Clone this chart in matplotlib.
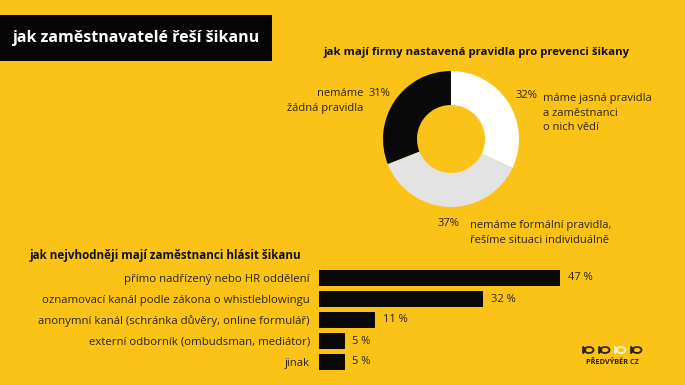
import matplotlib
matplotlib.use("Agg")
import matplotlib.pyplot as plt
from matplotlib.patches import Rectangle, Ellipse, Polygon

# ---- data ----
pie_labels = ["máme jasná pravidla\na zaměstnanci\no nich vědí",
              "nemáme formální pravidla,\nřešíme situaci individuálně",
              "nemáme\nžádná pravidla"]
pie_values = [32, 37, 31]
pie_colors = ["#ffffff", "#e3e3e3", "#0a0a0a"]

bar_labels = ["přímo nadřízený nebo HR oddělení",
              "oznamovací kanál podle zákona o whistleblowingu",
              "anonymní kanál (schránka důvěry, online formulář)",
              "externí odborník (ombudsman, mediátor)",
              "jinak"]
bar_values = [47, 32, 11, 5, 5]

title = "jak zaměstnavatelé řeší šikanu"
pie_title = "jak mají firmy nastavená pravidla pro prevenci šikany"
bar_title = "jak nejvhodněji mají zaměstnanci hlásit šikanu"

BG = "#fbc318"
TXT = "#2a2416"
W, H = 685, 385

plt.rcParams['font.family'] = ['Open Sans', 'DejaVu Sans']

fig = plt.figure(figsize=(W / 100, H / 100), dpi=100)
fig.patch.set_facecolor(BG)

def fx(x):
    return x / W

def fy(y):
    return 1 - y / H

# title box
fig.patches.append(Rectangle((0, fy(61)), fx(272), (61 - 15) / H,
                             transform=fig.transFigure, facecolor="#050505",
                             edgecolor="none", zorder=0))
fig.text(fx(12), fy(38), title, color="white", fontsize=11.5, fontweight="bold",
         va="center", ha="left")

# ---- donut ----
cx, cy, r = 451, 139, 68
axp = fig.add_axes([fx(cx - r), fy(cy + r), 2 * r / W, 2 * r / H])
axp.set_facecolor("none")
axp.pie(pie_values, colors=pie_colors, startangle=90, counterclock=False,
        radius=1, wedgeprops=dict(width=0.5, edgecolor="none"))
axp.set_xlim(-1, 1)
axp.set_ylim(-1, 1)
axp.set_aspect("equal")
axp.axis("off")

fig.text(fx(477), fy(52), pie_title, color="#111111", fontsize=8.2,
         fontweight="bold", ha="center", va="center")

lf = 8.0
# 32%
fig.text(fx(537), fy(95), f"{pie_values[0]}%", color=TXT, fontsize=lf, ha="right", va="center")
fig.text(fx(543), fy(113), pie_labels[0], color=TXT, fontsize=lf, ha="left", va="center",
         linespacing=1.5)
# 37%
fig.text(fx(459), fy(224), f"{pie_values[1]}%", color=TXT, fontsize=lf, ha="right", va="center")
fig.text(fx(470), fy(233), pie_labels[1], color=TXT, fontsize=lf, ha="left", va="center",
         linespacing=1.5)
# 31%
fig.text(fx(369), fy(93), f"{pie_values[2]}%", color=TXT, fontsize=lf, ha="left", va="center")
fig.text(fx(363), fy(101.5), pie_labels[2], color=TXT, fontsize=lf, ha="right", va="center",
         linespacing=1.5, multialignment="right")

# ---- bars ----
fig.text(fx(30), fy(255), bar_title, color="#111111", fontsize=8.4,
         fontweight="bold", ha="left", va="center")

top, step = 267.5, 21
n = len(bar_values)
axb = fig.add_axes([fx(319), fy(top + n * step), 308 / W, n * step / H])
axb.set_facecolor("none")
ypos = list(range(n))
axb.barh(ypos, bar_values, height=0.8, color="#0a0a0a", edgecolor="none")
axb.set_xlim(0, 60)
axb.set_ylim(n - 0.5, -0.5)
axb.set_yticks(ypos)
axb.set_yticklabels(bar_labels, fontsize=8.2, color=TXT)
axb.tick_params(axis="y", length=0, pad=6.5)
axb.set_xticks([])
for s in axb.spines.values():
    s.set_visible(False)
for yv, v in zip(ypos, bar_values):
    axb.annotate(f"{v} %", (v, yv), xytext=(5.5, 0), textcoords="offset points",
                 va="center", ha="left", fontsize=8.0, color=TXT)

# ---- logo ----
for i, x0 in enumerate([584, 600, 616, 632]):
    col = "#fff6d8" if i == 2 else "#2a2010"
    e = Ellipse((fx(x0 + 5), fy(350)), 9 / W, 6 / H, transform=fig.transFigure,
                facecolor="none", edgecolor=col, linewidth=1.3)
    fig.patches.append(e)
    tri = Polygon([(fx(x0 - 1), fy(346.5)), (fx(x0 + 1.5), fy(350)), (fx(x0 - 1), fy(353.5))],
                  closed=True, transform=fig.transFigure, facecolor="none",
                  edgecolor=col, linewidth=1.2)
    fig.patches.append(tri)
fig.text(fx(612), fy(362), "PŘEDVÝBĚR CZ", color="#2a2010", fontsize=5.3,
         fontweight="bold", ha="center", va="center")

fig.savefig("out.png", dpi=100, facecolor=BG)
